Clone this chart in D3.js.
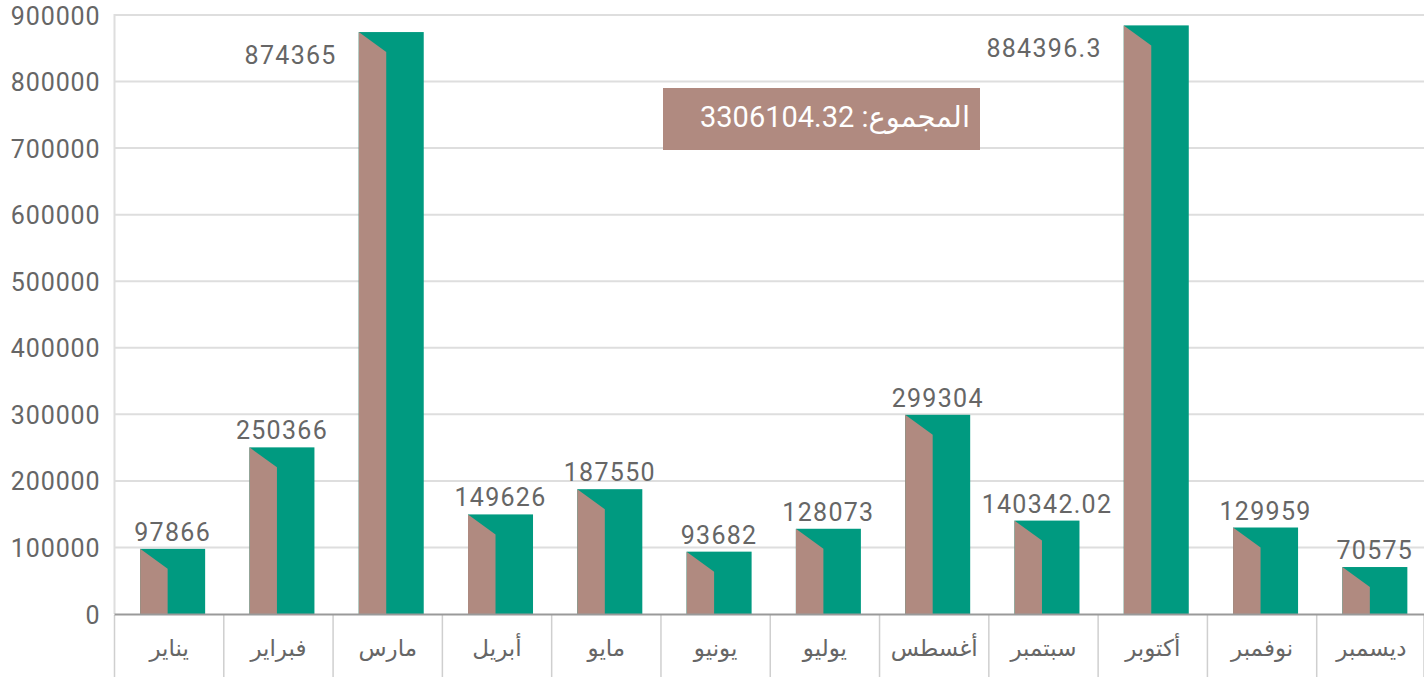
<!DOCTYPE html>
<html><head><meta charset="utf-8">
<script src="https://cdn.jsdelivr.net/npm/d3@7/dist/d3.min.js"></script>
<style>
html,body{margin:0;padding:0;background:#fff;}
svg{display:block;font-family:Roboto,"DejaVu Sans",sans-serif;}
</style></head>
<body><svg id="c" width="1424" height="677"></svg>
<script>
const months = ["يناير","فبراير","مارس","أبريل","مايو","يونيو","يوليو","أغسطس","سبتمبر","أكتوبر","نوفمبر","ديسمبر"];
const values = [97866,250366,874365,149626,187550,93682,128073,299304,140342.02,884396.3,129959,70575];
const valueLabels = ["97866","250366","874365","149626","187550","93682","128073","299304","140342.02","884396.3","129959","70575"];
const yTicks = [0,100000,200000,300000,400000,500000,600000,700000,800000,900000];
const totalLabel = "المجموع: 3306104.32";

const svg = d3.select("#c");
const x = d3.scaleBand().domain(months).range([114.5, 1426]).padding(0);
const y = d3.scaleLinear().domain([0, 900000]).range([614, 15]);

// grid
svg.append("g").selectAll("line").data(yTicks.filter(d=>d>0)).join("line")
  .attr("x1",114.5).attr("x2",1424).attr("y1",d=>y(d)).attr("y2",d=>y(d))
  .attr("stroke","#dedede").attr("stroke-width",2);
svg.append("line").attr("x1",114.5).attr("x2",114.5).attr("y1",y(900000)-1).attr("y2",614)
  .attr("stroke","#dedede").attr("stroke-width",2);

// y labels
const yAxis = d3.axisLeft(y).tickValues(yTicks).tickSize(0).tickPadding(14).tickFormat(d=>String(d));
const ya = svg.append("g").attr("transform","translate(114.5,0)").call(yAxis);
ya.select(".domain").remove();
ya.selectAll("text").attr("font-size",25).attr("fill","#666").attr("letter-spacing","0.9px")
  .attr("font-family","Roboto, sans-serif").attr("dy","0.36em");

// separators under axis
const sepPos = months.map(m=>x(m)).concat([1424]);
svg.append("g").selectAll("line").data(sepPos).join("line")
  .attr("x1",d=>d).attr("x2",d=>d).attr("y1",615).attr("y2",677)
  .attr("stroke","#cfcfcf").attr("stroke-width",1.5);

// bars
const bw = 65, brownW = 27.5, slant = 20;
const bx = m => x(m) + (x.bandwidth()-bw)/2 + 3.5;
const g = svg.append("g");
months.forEach((m,i)=>{
  const x0 = bx(m), top = y(values[i]), bot = y(0);
  g.append("rect").attr("x",x0).attr("y",top).attr("width",bw).attr("height",bot-top).attr("fill","#009a80");
  g.append("path").attr("d",`M${x0},${top}L${x0+brownW},${top+slant}L${x0+brownW},${bot}L${x0},${bot}Z`).attr("fill","#b08a80");
});

// x axis line
svg.append("line").attr("x1",114.5).attr("x2",1424).attr("y1",614.5).attr("y2",614.5)
  .attr("stroke","#9a9a9a").attr("stroke-width",2);

// x labels
const xAxis = d3.axisBottom(x).tickSize(0).tickPadding(0);
const xa = svg.append("g").attr("transform","translate(0,648)").call(xAxis);
xa.select(".domain").remove();
xa.selectAll("text").attr("font-size",23).attr("fill","#666").attr("dy","0.35em")
  .attr("font-family","'DejaVu Sans', sans-serif");

// value labels
svg.append("g").selectAll("text").data(months).join("text")
  .attr("x",(m,i)=> values[i]>800000 ? bx(m)-22 : bx(m)+bw/2)
  .attr("y",(m,i)=> values[i]>800000 ? y(values[i])+23 : y(values[i])-17)
  .attr("text-anchor",(m,i)=> values[i]>800000 ? "end" : "middle")
  .attr("dy","0.36em").attr("font-size",25).attr("fill","#666").attr("letter-spacing","1.3px")
  .text((m,i)=>valueLabels[i]);

// total box
svg.append("rect").attr("x",663).attr("y",88).attr("width",317).attr("height",62).attr("fill","#b08a80");
svg.append("text").attr("x",970).attr("y",117).attr("dy","0.36em").attr("text-anchor","start")
  .attr("direction","rtl").attr("font-size",29).attr("fill","#fff").attr("letter-spacing","0.6px").text(totalLabel);
</script></body></html>
